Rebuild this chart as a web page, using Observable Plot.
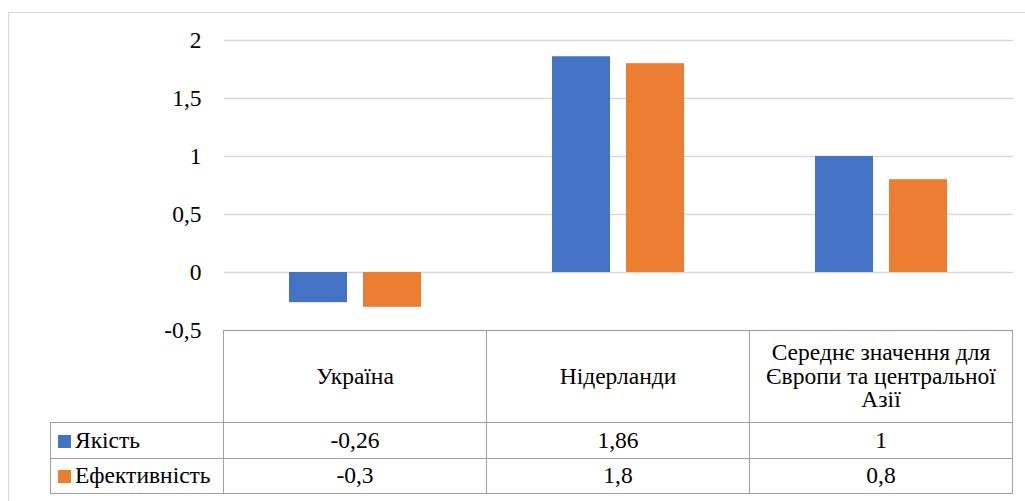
<!DOCTYPE html>
<html>
<head>
<meta charset="utf-8">
<script src="https://cdn.jsdelivr.net/npm/d3@7"></script>
<script src="https://cdn.jsdelivr.net/npm/@observablehq/plot@0.6"></script>
<style>
  html, body { margin: 0; padding: 0; background: #fff; }
  #wrap { position: relative; width: 1025px; height: 501px; overflow: hidden; font-family: "Liberation Serif", Tinos, "Times New Roman", "Noto Serif", "Noto Serif CJK SC", "DejaVu Serif", serif; color: #000; }
  #frame { position: absolute; left: 8px; top: 12px; width: 1100px; height: 600px; border-left: 1.5px solid #d9d9d9; border-top: 1.5px solid #d9d9d9; }
  #chart { position: absolute; left: 0; top: 0; }
  #tbl { position: absolute; left: 50px; top: 330px; border-collapse: collapse; font-size: 23.5px; table-layout: fixed; font-family: inherit; }
  #tbl td { border: 1.5px solid #a0a0a0; text-align: center; vertical-align: middle; padding: 0 4px; line-height: 23.5px; }
  #tbl td.blank { border: none; border-right: 1.5px solid #a0a0a0; }
  #tbl td.leg { text-align: left; padding-left: 7px; white-space: nowrap; }
  .sw { display: inline-block; width: 13px; height: 13px; margin-right: 4px; vertical-align: 0px; }
</style>
</head>
<body>
<div id="wrap">
  <div id="frame"></div>
  <div id="chart"></div>
</div>
<script>
const categories = ["Україна", "Нідерланди", "Середнє значення для Європи та центральної Азії"];
const series = ["Якість", "Ефективність"];
const quality = [-0.26, 1.86, 1];
const efficiency = [-0.3, 1.8, 0.8];
const yTicks = [-0.5, 0, 0.5, 1, 1.5, 2];
const colors = ["#4472C4", "#ED7D31"];

const fontStack = '"Liberation Serif", Tinos, "Times New Roman", "Noto Serif", "Noto Serif CJK SC", "DejaVu Serif", serif';
const fmt = d => String(d).replace(".", ",");
const seriesValues = [quality, efficiency];
const data = [];
categories.forEach((c, i) => series.forEach((s, j) => data.push({cat: c, series: s, value: seriesValues[j][i]})));

const chart = Plot.plot({
  width: 1025,
  height: 345,
  marginLeft: 223,
  marginRight: 12,
  marginTop: 40,
  marginBottom: 15,
  style: {fontFamily: fontStack, fontSize: "23.5px", color: "#000", background: "transparent"},
  fx: {domain: categories, padding: 0, axis: null, label: null},
  x: {domain: series, paddingInner: 0.213, paddingOuter: 0.862, axis: null},
  y: {domain: [-0.5, 2], label: null},
  color: {domain: series, range: colors},
  marks: [
    Plot.gridY(yTicks, {stroke: "#d9d9d9", strokeOpacity: 1, strokeWidth: 1.5}),
    Plot.barY(data, {fx: "cat", x: "series", y: "value", fill: "series"}),
    Plot.axisY(yTicks, {tickSize: 0, tickPadding: 23, tickFormat: fmt, fill: "#000", fontSize: 23.5, fontFamily: fontStack})
  ]
});
document.getElementById("chart").appendChild(chart);

// data table below the plot, columns aligned with the fx band scale
const fxScale = chart.scale("fx");
const bw = fxScale.bandwidth;
const tbl = document.createElement("table");
tbl.id = "tbl";
const cg = document.createElement("colgroup");
[223 - 50, bw, bw, bw].forEach(w => { const col = document.createElement("col"); col.style.width = w + "px"; cg.appendChild(col); });
tbl.appendChild(cg);
const hr = document.createElement("tr");
hr.style.height = "92px";
const blank = document.createElement("td"); blank.className = "blank"; hr.appendChild(blank);
categories.forEach(c => { const td = document.createElement("td"); td.textContent = c; hr.appendChild(td); });
tbl.appendChild(hr);
series.forEach((s, j) => {
  const tr = document.createElement("tr");
  tr.style.height = j === 0 ? "36px" : "35px";
  const lt = document.createElement("td"); lt.className = "leg";
  const sw = document.createElement("span"); sw.className = "sw"; sw.style.background = colors[j];
  lt.appendChild(sw); lt.appendChild(document.createTextNode(s));
  tr.appendChild(lt);
  seriesValues[j].forEach(v => { const td = document.createElement("td"); td.textContent = fmt(v); tr.appendChild(td); });
  tbl.appendChild(tr);
});
document.getElementById("wrap").appendChild(tbl);
</script>
</body>
</html>
